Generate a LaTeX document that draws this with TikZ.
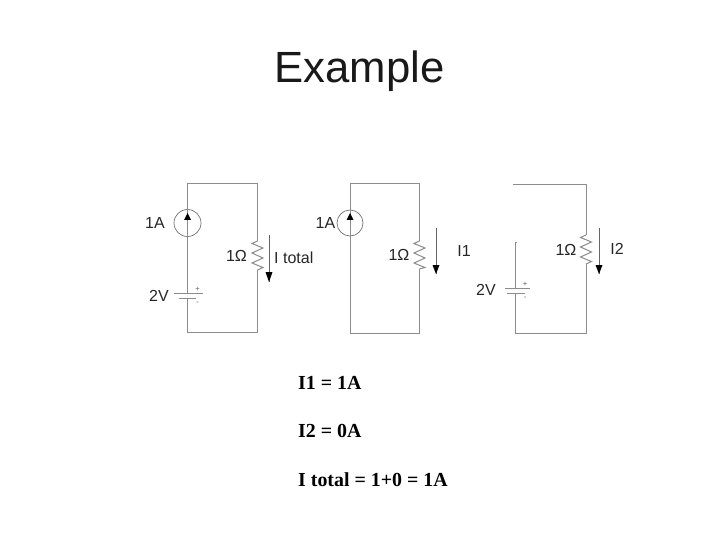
\documentclass[tikz,border=0pt]{standalone}
\usepackage{fontspec}
\setmainfont{Liberation Sans}
\newfontfamily\serifb{Liberation Serif Bold}
\tikzset{
 wire/.style={draw=black!45,line width=1pt},
 lbl/.style={inner sep=0pt,font=\fontsize{16}{18}\selectfont,text=black!85},
 sign/.style={inner sep=0pt,font=\fontsize{7.5}{8}\selectfont,text=black!65},
 eqn/.style={inner sep=0pt,anchor=base west,font=\serifb\fontsize{19.9}{22}\selectfont,text=black},
 cur/.style={draw=black!60,line width=.8pt},
 tip/.style={fill=black,draw=none},
}
\newcommand{\zig}[3]{% x, y top, y bottom
 \draw[wire] (#1,#2) -- (#1-5.5,#2+2.5) -- (#1+5.5,#2+7) -- (#1-5.5,#2+12) -- (#1+5.5,#2+17) -- (#1-5.5,#2+22) -- (#1+5.5,#2+26.5) -- (#1,#3);}
\begin{document}
\begin{tikzpicture}[x=1pt,y=-1pt]
\useasboundingbox (0,0) rectangle (720,540);
\node[inner sep=0pt,font=\fontsize{43.7}{50}\selectfont,text=black!90,anchor=base] (title) at (359.7,83) {Example};
% circuit 1
\coordinate (a1) at (187.5,184); \coordinate (b1) at (257.5,184);
\coordinate (c1) at (257.5,332.5); \coordinate (d1) at (187.5,332.5);
\coordinate (r1t) at (257.5,241); \coordinate (r1b) at (257.5,270);
\coordinate (p1) at (187.5,293); \coordinate (q1) at (187.5,298);
\node[circle,draw=black!55,line width=.7pt,minimum size=27pt,inner sep=0pt] (s1) at (187.5,223) {};
\draw[wire] (p1) -- (a1) -- (b1) -- (r1t);
\draw[wire] (r1b) -- (c1) -- (d1) -- (q1);
\zig{257.5}{241}{270}
\fill[tip] (187.5,213) -- (184,220) -- (191,220) -- cycle;
\draw[wire] (173.5,293) -- (202.5,293);
\draw[wire] (178.5,298) -- (195.5,298);
\node[sign] at (197.5,289) {+};
\node[sign] at (197.5,303) {-};
\coordinate (i1a) at (269,235); \coordinate (i1b) at (269,282);
\draw[cur] (i1a) -- (i1b);
\fill[tip] (269,282) -- (265.5,272) -- (272.5,272) -- cycle;
\node[lbl] at (155,223) {1A};
\node[lbl] at (159,296) {2V};
\node[lbl] at (236.5,256) {1Ω};
\node[lbl,anchor=west] at (274,257.5) {I total};
% circuit 2
\coordinate (a2) at (350,184); \coordinate (b2) at (419.5,184);
\coordinate (c2) at (419.5,333); \coordinate (d2) at (350,333);
\node[circle,draw=black!55,line width=.7pt,minimum size=26pt,inner sep=0pt] (s2) at (350,223) {};
\draw[wire] (d2) -- (a2) -- (b2) -- (419.5,241);
\draw[wire] (419.5,269) -- (c2) -- (d2);
\zig{419.5}{241}{269}
\fill[tip] (350,213) -- (346.5,220) -- (353.5,220) -- cycle;
\draw[cur] (436,228) -- (436,274);
\fill[tip] (436,274) -- (432.5,265) -- (439.5,265) -- cycle;
\node[lbl] at (325.5,222.5) {1A};
\node[lbl] at (399,255) {1Ω};
\node[lbl] at (464,251) {I1};
% circuit 3
\coordinate (a3) at (512.5,184.5); \coordinate (b3) at (586,184.5);
\coordinate (c3) at (586,333); \coordinate (d3) at (515,333);
\draw[wire] (a3) -- (b3) -- (586,235);
\draw[wire] (586,264) -- (c3) -- (d3) -- (515,293);
\draw[wire] (515,288) -- (515,242) -- (517,242);
\zig{586}{235}{264}
\draw[wire] (505,288) -- (530,288);
\draw[wire] (507,293) -- (525,293);
\node[sign] at (525,284) {+};
\node[sign] at (525,298) {-};
\draw[cur] (599,228) -- (599,274);
\fill[tip] (599,274) -- (595.5,265) -- (602.5,265) -- cycle;
\node[lbl] at (486,290) {2V};
\node[lbl] at (566,249.5) {1Ω};
\node[lbl] at (617,249) {I2};
% equations
\node[eqn] at (298,389.5) {I1 = 1A};
\node[eqn] at (298,437.5) {I2 = 0A};
\node[eqn] at (298,486) {I total = 1+0 = 1A};
\end{tikzpicture}
\end{document}
